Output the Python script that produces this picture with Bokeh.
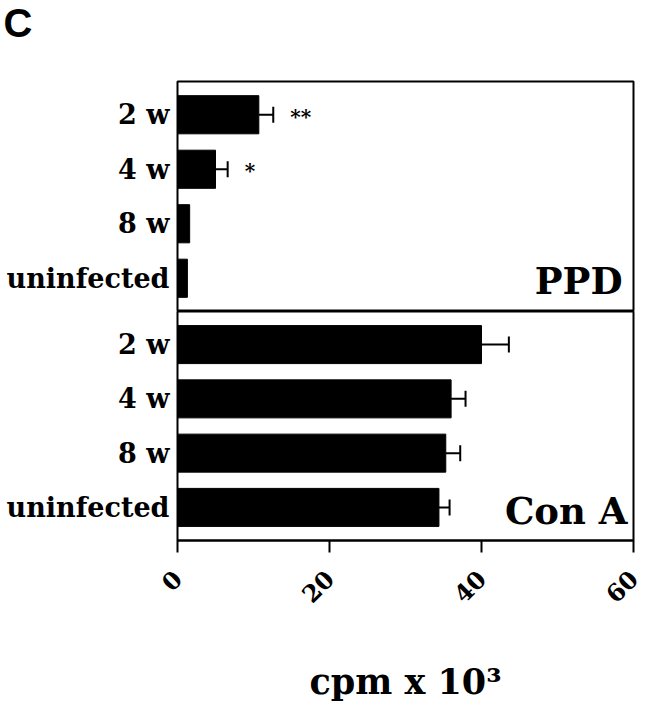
import math
from bokeh.plotting import figure
from bokeh.models import (ColumnDataSource, FactorRange, Range1d, FixedTicker,
                          Whisker, TeeHead)
from bokeh.layouts import column
from bokeh.embed import file_html
from bokeh.resources import INLINE
from bokeh.core.properties import value

# ---------------- data ----------------
groups = ["uninfected", "8 w", "4 w", "2 w"]          # bottom -> top
ppd_mean = [1.3, 1.6, 5.0, 10.7]
ppd_err = [0.0, 0.0, 1.6, 1.9]
ppd_sig = ["", "", "*", "**"]
cona_mean = [34.4, 35.3, 36.0, 40.0]
cona_err = [1.4, 1.9, 1.9, 3.6]
cona_sig = ["", "", "", ""]
x_ticks = [0, 20, 40, 60]
panel_names = ["PPD", "Con A"]
x_title = "cpm x 10\u00b3"
panel_letter = "C"

SERIF = "DejaVu Serif"
W = 660
LEFT = 177
RIGHT = 27


def make_panel(mean, err, sig, name, name_dx, name_dy, height, top, bottom, show_x):
    p = figure(width=W, height=height,
               x_range=Range1d(x_ticks[0], x_ticks[-1]),
               y_range=FactorRange(factors=groups, range_padding=0.11,
                                   range_padding_units="absolute"),
               x_axis_location="below" if show_x else None,
               output_backend="svg", toolbar_location=None,
               min_border_left=LEFT, min_border_right=RIGHT,
               min_border_top=top, min_border_bottom=bottom)
    p.outline_line_color = "black"
    p.outline_line_width = 2
    p.xgrid.visible = False
    p.ygrid.visible = False
    p.background_fill_color = "white"
    p.border_fill_color = "white"

    src = ColumnDataSource(dict(group=groups, mean=mean, err=err, sig=sig,
                                tip=[m + e for m, e in zip(mean, err)]))
    p.hbar(y="group", left=0, right="mean", height=0.7, source=src,
           fill_color="black", line_color="black")

    wsrc = ColumnDataSource(dict(
        group=[g for g, e in zip(groups, err) if e > 0],
        lower=[m for m, e in zip(mean, err) if e > 0],
        upper=[m + e for m, e in zip(mean, err) if e > 0]))
    w = Whisker(source=wsrc, base="group", lower="lower", upper="upper",
                dimension="width", line_color="black", line_width=2,
                lower_head=None,
                upper_head=TeeHead(size=16, line_width=2, line_color="black"))
    p.add_layout(w)

    p.text(x="tip", y="group", text="sig", source=src, x_offset=17, y_offset=2,
           text_font=value(SERIF), text_font_style="bold",
           text_font_size="20px", text_baseline="middle", text_align="left",
           text_color="black")

    # panel name, anchored to the right end of the axis / lowest category row
    nsrc = ColumnDataSource(dict(x=[x_ticks[-1]], y=[groups[0]], t=[name]))
    p.text(x="x", y="y", text="t", source=nsrc, x_offset=name_dx, y_offset=name_dy,
           text_font=value(SERIF), text_font_style="bold",
           text_font_size="37px", text_baseline="alphabetic", text_align="right",
           text_color="black")

    ya = p.yaxis[0]
    ya.axis_line_color = None
    ya.major_tick_line_color = None
    ya.minor_tick_line_color = None
    ya.major_label_text_font = SERIF
    ya.major_label_text_font_style = "bold"
    ya.major_label_text_font_size = "27px"
    ya.major_label_text_color = "black"
    ya.major_label_standoff = 2

    if show_x:
        xa = p.xaxis[0]
        xa.ticker = FixedTicker(ticks=x_ticks, minor_ticks=[])
        xa.axis_line_width = 2
        xa.axis_line_color = "black"
        xa.major_tick_in = 0
        xa.major_tick_out = 12
        xa.major_tick_line_width = 2
        xa.minor_tick_line_color = None
        xa.major_label_orientation = math.pi / 4
        xa.major_label_text_font = SERIF
        xa.major_label_text_font_style = "bold"
        xa.major_label_text_font_size = "24px"
        xa.major_label_text_color = "black"
        xa.major_label_standoff = 22
        xa.axis_label = x_title
        xa.axis_label_text_font = SERIF
        xa.axis_label_text_font_style = "bold"
        xa.axis_label_text_font_size = "35px"
        xa.axis_label_text_color = "black"
        xa.axis_label_standoff = 47
    return p


# panel letter strip on top (letter drawn as the strip's title)
p0 = figure(width=W, height=60, x_range=Range1d(0, 1), y_range=Range1d(0, 1),
            x_axis_location=None, y_axis_location=None,
            output_backend="svg", toolbar_location=None, min_border=0,
            min_border_left=LEFT, min_border_right=RIGHT)
p0.outline_line_color = None
p0.xgrid.visible = False
p0.ygrid.visible = False
p0.title.text = panel_letter
p0.title.text_font = "Liberation Sans"
p0.title.text_font_style = "bold"
p0.title.text_font_size = "40px"
p0.title.text_color = "black"
p0.title.align = "left"
p0.title.vertical_align = "top"
p0.title.offset = -174
p0.title.standoff = 0

p1 = make_panel(ppd_mean, ppd_err, ppd_sig, panel_names[0], -11, 3, 251, 21, 0, False)
p2 = make_panel(cona_mean, cona_err, cona_sig, panel_names[1], -6, 4, 408, 0, 179, True)

layout = column(p0, p1, p2, spacing=0)
open("out.html", "w").write(file_html(layout, INLINE))
